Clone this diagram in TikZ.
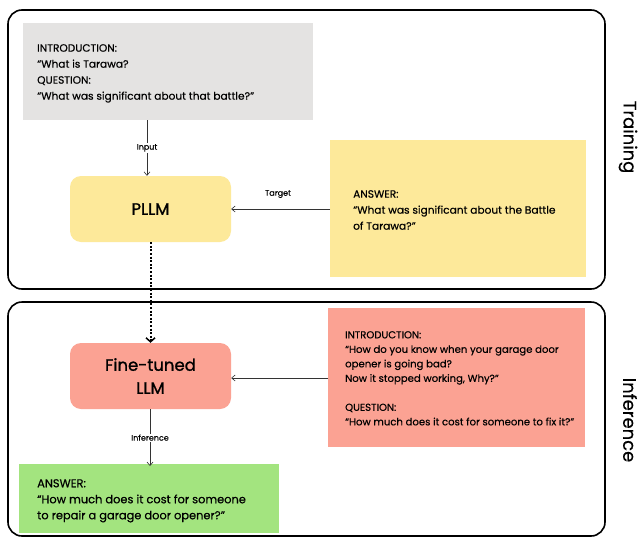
\documentclass[tikz,border=0pt]{standalone}
\usepackage{fontspec}
\setmainfont{Poppins}[RawFeature={embolden=0.4}]
\newfontfamily\modelfont{Poppins}[RawFeature={embolden=1.2}]
\usetikzlibrary{arrows.meta}
\definecolor{boxgray}{HTML}{E4E3E2}
\definecolor{boxyellow}{HTML}{FDE99A}
\definecolor{boxsalmon}{HTML}{FBA293}
\definecolor{boxgreen}{HTML}{A3E47F}
\tikzset{
  frame/.style={draw=black, line width=1.6pt, rounded corners=14pt},
  body/.style={anchor=north west, align=left, inner sep=0pt, font=\fontsize{10.6}{16}\selectfont},
  model/.style={rounded corners=11pt, inner sep=0pt, align=center, font=\modelfont\fontsize{16.5}{23}\selectfont},
  conn/.style={draw=black!80, line width=0.6pt, -{Straight Barb[length=3.5pt,width=6pt]}},
  tag/.style={fill=white, inner sep=1pt, font=\fontsize{8}{10}\selectfont},
  side/.style={rotate=-90, font=\fontsize{18}{20}\selectfont}
}
\begin{document}
\begin{tikzpicture}[x=1pt, y=-1pt]
\useasboundingbox[fill=white] (0,0) rectangle (642,538);

% outer frames
\draw[frame] (8,10) rectangle (605,289);
\draw[frame] (8,302) rectangle (605,536);
\node[side] (trainlbl) at (628,137) {Training};
\node[side] (inflbl) at (630,420) {Inference};

% training stage
\path[fill=boxgray] (23,23) rectangle (313,120);
\coordinate (grayS) at (147,120);
\node[body] (graytxt) at (37,44) {INTRODUCTION:\\“What is Tarawa?\\QUESTION:\\“What was significant about that battle?”};

\path[fill=boxyellow] (330,140) rectangle (586,277);
\coordinate (ansW) at (330,209);
\node[body] (anstxt) at (353,190) {ANSWER:\\“What was significant about the Battle\\of Tarawa?”};

\node[model, fill=boxyellow, minimum width=161pt, minimum height=66pt] (pllm) at (150.5,209) {PLLM};

\draw[conn] (grayS) -- node[tag] {Input} (pllm.north -| grayS);
\draw[conn] (ansW) -- (pllm.east);
\node[font=\fontsize{8}{10}\selectfont] (targetlbl) at (278,194) {Target};

% inference stage
\node[model, fill=boxsalmon, minimum width=161pt, minimum height=66pt] (ft) at (150.5,376) {Fine-tuned\\LLM};

\draw[line width=2pt, dash pattern=on 2pt off 1.6pt, -{Straight Barb[length=4pt,width=9pt,line width=1.5pt]}] (pllm.south) -- (ft.north);

\path[fill=boxsalmon] (328,308) rectangle (585,447);
\coordinate (redW) at (328,378);
\node[body, font=\fontsize{10.1}{14.5}\selectfont] (redtxt) at (345,331) {INTRODUCTION:\\“How do you know when your garage door\\opener is going bad?\\Now it stopped working, Why?”\\[14.5pt]QUESTION:\\“How much does it cost for someone to fix it?”};
\draw[conn] (redW) -- (ft.east |- redW);

\path[fill=boxgreen] (19,464) rectangle (279,533);
\coordinate (greenN) at (150,464);
\node[body, font=\fontsize{11.4}{16}\selectfont] (greentxt) at (37,479) {ANSWER:\\“How much does it cost for someone\\to repair a garage door opener?”};
\draw[conn] (ft.south -| greenN) -- node[tag] {Inference} ([yshift=-2pt]greenN);
\end{tikzpicture}
\end{document}
